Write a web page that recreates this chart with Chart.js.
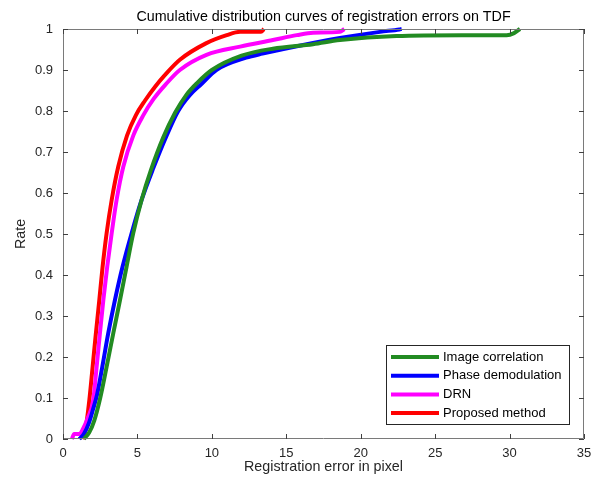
<!DOCTYPE html>
<html>
<head>
<meta charset="utf-8">
<script src="https://cdn.jsdelivr.net/npm/chart.js@4"></script>
<style>
  html, body { margin: 0; padding: 0; background: #fff; }
  #wrap { width: 599px; height: 487px; }
</style>
</head>
<body>
<div id="wrap"><canvas id="cdfChart" width="599" height="487"></canvas></div>
<script>
// values
const seriesNames = ['Image correlation', 'Phase demodulation', 'DRN', 'Proposed method'];
const seriesColors = ['#228b22', '#0000ff', '#ff00ff', '#ff0000'];

const errCorr  = [1.4, 1.75, 2.1, 2.5, 2.93, 3.38, 3.83, 4.27, 4.72, 5.28, 5.9, 6.73, 7.52, 8.3, 9.0, 10.0, 12.0, 14.1, 16.8, 18.6, 22.4, 26.8, 29.8, 30.3, 30.7];
const rateCorr = [0, 0.015, 0.045, 0.1, 0.176, 0.258, 0.339, 0.42, 0.502, 0.583, 0.655, 0.735, 0.795, 0.84, 0.868, 0.9, 0.935, 0.952, 0.963, 0.973, 0.983, 0.985, 0.985, 0.99, 1.0];

const errPhase  = [1.1, 1.4, 1.75, 2.0, 2.3, 2.64, 3.04, 3.49, 4.0, 4.61, 5.28, 6.06, 6.96, 7.74, 8.5, 9.3, 10.3, 12.3, 13.4, 16.8, 18.6, 21.3, 22.6, 22.75];
const ratePhase = [0, 0.012, 0.04, 0.07, 0.11, 0.176, 0.258, 0.339, 0.42, 0.502, 0.583, 0.66, 0.74, 0.8, 0.838, 0.866, 0.9, 0.93, 0.94, 0.966, 0.978, 0.993, 0.999, 1.0];

const errDrn  = [0.6, 0.75, 1.1, 1.35, 1.65, 2.03, 2.26, 2.48, 2.71, 2.97, 3.27, 3.6, 4.05, 4.72, 5.4, 6.1, 6.9, 7.85, 9.64, 11.9, 14.1, 15.7, 16.8, 18.6, 18.9];
const rateDrn = [0, 0.012, 0.012, 0.025, 0.05, 0.095, 0.176, 0.258, 0.339, 0.42, 0.502, 0.583, 0.664, 0.74, 0.79, 0.83, 0.865, 0.9, 0.937, 0.957, 0.973, 0.985, 0.991, 0.993, 1.0];

const errProp  = [1.3, 1.45, 1.6, 1.77, 1.99, 2.21, 2.44, 2.66, 2.93, 3.27, 3.71, 4.3, 4.9, 5.5, 6.2, 6.9, 7.85, 9.6, 11.0, 11.9, 13.3, 13.5];
const rateProp = [0, 0.015, 0.045, 0.095, 0.176, 0.258, 0.339, 0.42, 0.502, 0.583, 0.664, 0.74, 0.79, 0.825, 0.86, 0.89, 0.925, 0.965, 0.985, 0.993, 0.993, 1.0];

const xTicks = [0, 5, 10, 15, 20, 25, 30, 35];
const yTicks = [0, 0.1, 0.2, 0.3, 0.4, 0.5, 0.6, 0.7, 0.8, 0.9, 1];

const FONT = 'Liberation Sans, Arial, sans-serif';

function toPoints(xs, ys) {
    return xs.map((x, i) => ({ x: x, y: ys[i] }));
}

const allErr = [errCorr, errPhase, errDrn, errProp];
const allRate = [rateCorr, ratePhase, rateDrn, rateProp];

// box around the axes + inward ticks, matlab style
const boxTicks = {
    id: 'boxTicks',
    afterDraw(chart) {
        const { ctx, chartArea: a, scales } = chart;
        ctx.save();
        ctx.strokeStyle = '#7a7a7a';
        ctx.lineWidth = 1;
        ctx.beginPath();
        ctx.rect(a.left + 0.5, a.top + 0.5, a.right - a.left - 1, a.bottom - a.top - 1);
        ctx.stroke();
        ctx.strokeStyle = '#404040';
        ctx.beginPath();
        xTicks.forEach(v => {
            const px = Math.round(scales.x.getPixelForValue(v)) + 0.5;
            ctx.moveTo(px, a.bottom); ctx.lineTo(px, a.bottom - 5);
            ctx.moveTo(px, a.top); ctx.lineTo(px, a.top + 5);
        });
        yTicks.forEach(v => {
            const py = Math.round(scales.y.getPixelForValue(v)) + 0.5;
            ctx.moveTo(a.left, py); ctx.lineTo(a.left + 5, py);
            ctx.moveTo(a.right, py); ctx.lineTo(a.right - 5, py);
        });
        ctx.stroke();
        ctx.restore();
    }
};

// legend box in the lower right corner of the axes
const cornerLegend = {
    id: 'cornerLegend',
    afterDraw(chart) {
        const { ctx, chartArea: a } = chart;
        const w = 183, h = 79;
        const x0 = a.right - 15 - w;
        const y0 = a.bottom - 15 - h;
        ctx.save();
        ctx.fillStyle = '#fff';
        ctx.fillRect(x0, y0, w, h);
        ctx.strokeStyle = '#262626';
        ctx.lineWidth = 1;
        ctx.strokeRect(x0 + 0.5, y0 + 0.5, w, h);
        ctx.font = '13px ' + FONT;
        ctx.textBaseline = 'middle';
        ctx.fillStyle = '#000';
        chart.data.datasets.forEach((ds, i) => {
            const cy = y0 + 12 + i * 18.7;
            ctx.strokeStyle = ds.borderColor;
            ctx.lineWidth = 4;
            ctx.beginPath();
            ctx.moveTo(x0 + 5, cy);
            ctx.lineTo(x0 + 53, cy);
            ctx.stroke();
            ctx.fillText(ds.label, x0 + 57, cy);
        });
        ctx.restore();
    }
};

const ctx = document.getElementById('cdfChart').getContext('2d');
new Chart(ctx, {
    type: 'line',
    data: {
        datasets: seriesNames.map((name, i) => ({
            label: name,
            data: toPoints(allErr[i], allRate[i]),
            borderColor: seriesColors[i],
            backgroundColor: seriesColors[i],
            borderWidth: 4,
            pointRadius: 0,
            fill: false,
            tension: 0.4,
            cubicInterpolationMode: 'monotone',
            clip: 4
        }))
    },
    options: {
        responsive: false,
        animation: false,
        events: [],
        layout: { padding: { top: 29, right: 15, left: 0, bottom: 0 } },
        plugins: {
            legend: { display: false },
            tooltip: { enabled: false },
            title: { display: false }
        },
        scales: {
            x: {
                type: 'linear',
                min: 0, max: 35,
                afterBuildTicks: s => { s.ticks = xTicks.map(v => ({ value: v })); },
                afterFit: s => { s.height = 48; },
                grid: { display: false, drawTicks: false },
                border: { display: false },
                ticks: { color: '#262626', font: { family: FONT, size: 13 }, padding: 7, maxRotation: 0 },
                title: { display: true, text: 'Registration error in pixel', color: '#262626', font: { family: FONT, size: 14.3 }, padding: { top: 0, bottom: 11 } }
            },
            y: {
                type: 'linear',
                min: 0, max: 1,
                afterBuildTicks: s => { s.ticks = yTicks.map(v => ({ value: v })); },
                afterFit: s => { s.width = 63; },
                grid: { display: false, drawTicks: false },
                border: { display: false },
                ticks: {
                    color: '#262626', font: { family: FONT, size: 13 }, padding: 10,
                    callback: v => String(Math.round(v * 10) / 10)
                },
                title: { display: true, text: 'Rate', color: '#262626', font: { family: FONT, size: 14.3 }, padding: { top: 12, bottom: 0 } }
            }
        }
    },
    plugins: [boxTicks, cornerLegend, {
        id: 'topTitle',
        afterDraw(chart) {
            const c = chart.ctx, a = chart.chartArea;
            c.save();
            c.font = '14.3px ' + FONT;
            c.fillStyle = '#000';
            c.textAlign = 'center';
            c.textBaseline = 'middle';
            c.fillText('Cumulative distribution curves of registration errors on TDF', (a.left + a.right) / 2, 17.5);
            c.restore();
        }
    }]
});
</script>
</body>
</html>
